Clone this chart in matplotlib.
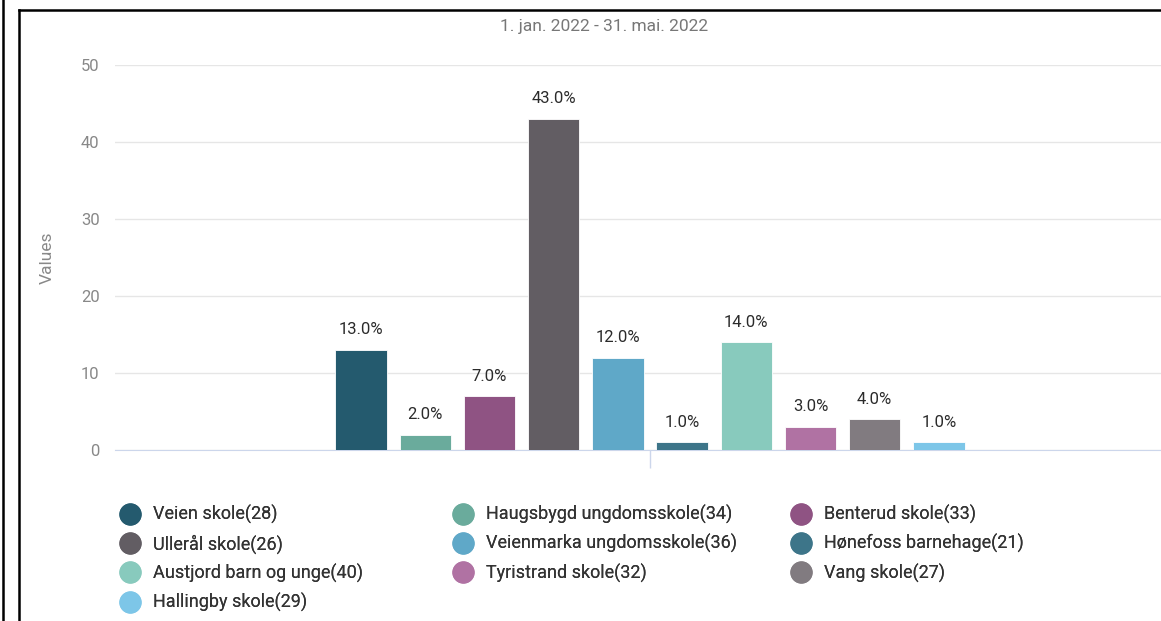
import numpy as np
import matplotlib
matplotlib.use("Agg")
import matplotlib.pyplot as plt
from matplotlib.lines import Line2D

# data
schools = ["Veien skole(28)", "Haugsbygd ungdomsskole(34)", "Benterud skole(33)",
           "Ullerål skole(26)", "Veienmarka ungdomsskole(36)", "Hønefoss barnehage(21)",
           "Austjord barn og unge(40)", "Tyristrand skole(32)", "Vang skole(27)",
           "Hallingby skole(29)"]
values = [13.0, 2.0, 7.0, 43.0, 12.0, 1.0, 14.0, 3.0, 4.0, 1.0]
colors = ["#245a6e", "#6aab9c", "#8f5383", "#625d63", "#5fa8c8",
          "#3d7589", "#88cabd", "#b072a3", "#817b80", "#7dc6e8"]
yticks = [0, 10, 20, 30, 40, 50]
title = "1. jan. 2022 - 31. mai. 2022"


def main():
    plt.rcParams['font.family'] = ['Roboto', 'DejaVu Sans']
    W, H = 1161, 621
    fig = plt.figure(figsize=(W / 100, H / 100), dpi=100)

    ax = fig.add_axes([115 / W, 171 / H, 1046 / W, 385 / H])
    x = np.arange(len(values))
    ax.bar(x, values, width=0.8, color=colors, edgecolor="white", linewidth=0.6, zorder=3)
    for xi, v in zip(x, values):
        ax.annotate(f"{v:.1f}%", (xi, v), xytext=(0, 9), textcoords="offset points",
                    ha="center", va="bottom", fontsize=12, color="#2b2b2b")

    ax.set_xlim(4.5 - 535 / 64.2, 4.5 + 511 / 64.2)
    ax.set_ylim(0, 50)
    ax.set_yticks(yticks)
    ax.set_yticklabels([str(t) for t in yticks], color="#888888", fontsize=12)
    ax.tick_params(axis="y", length=0, pad=11)
    ax.set_xticks([4.5])
    ax.set_xticklabels([""])
    ax.tick_params(axis="x", length=13, color="#ccd6eb", width=1)
    ax.grid(axis="y", color="#e6e6e6", linewidth=1, zorder=0)
    for s in ["top", "right", "left"]:
        ax.spines[s].set_visible(False)
    ax.spines["bottom"].set_color("#ccd6eb")
    ax.set_ylabel("Values", color="#888888", fontsize=12.5, labelpad=19)

    fig.text(604 / W, 1 - 27 / H, title, ha="center", va="center",
             color="#777777", fontsize=12.5)

    # legend: three columns, entries in row order
    col_x = [121, 454, 792]
    for c in range(3):
        idx = list(range(c, len(schools), 3))
        handles = [Line2D([], [], marker="o", linestyle="", markersize=15,
                          markerfacecolor=colors[i], markeredgecolor=colors[i])
                   for i in idx]
        leg = fig.legend(handles, [schools[i] for i in idx], loc="upper left",
                         bbox_to_anchor=(col_x[c] / W, 1 - 505 / H), frameon=False,
                         fontsize=13, labelcolor="#333333", handlelength=1.0,
                         handletextpad=0.75, labelspacing=0.56, borderaxespad=0,
                         borderpad=0)
        fig.add_artist(leg)

    # screenshot frame
    fig.add_artist(Line2D([2.5 / W, 2.5 / W], [0, 1], color="black", lw=1.8))
    fig.add_artist(Line2D([19 / W, 19 / W], [0, 1 - 10 / H], color="black", lw=1.8))
    fig.add_artist(Line2D([19 / W, 1], [1 - 10 / H, 1 - 10 / H], color="black", lw=1.8))

    fig.savefig("out.png", dpi=100)


if __name__ == "__main__":
    main()
